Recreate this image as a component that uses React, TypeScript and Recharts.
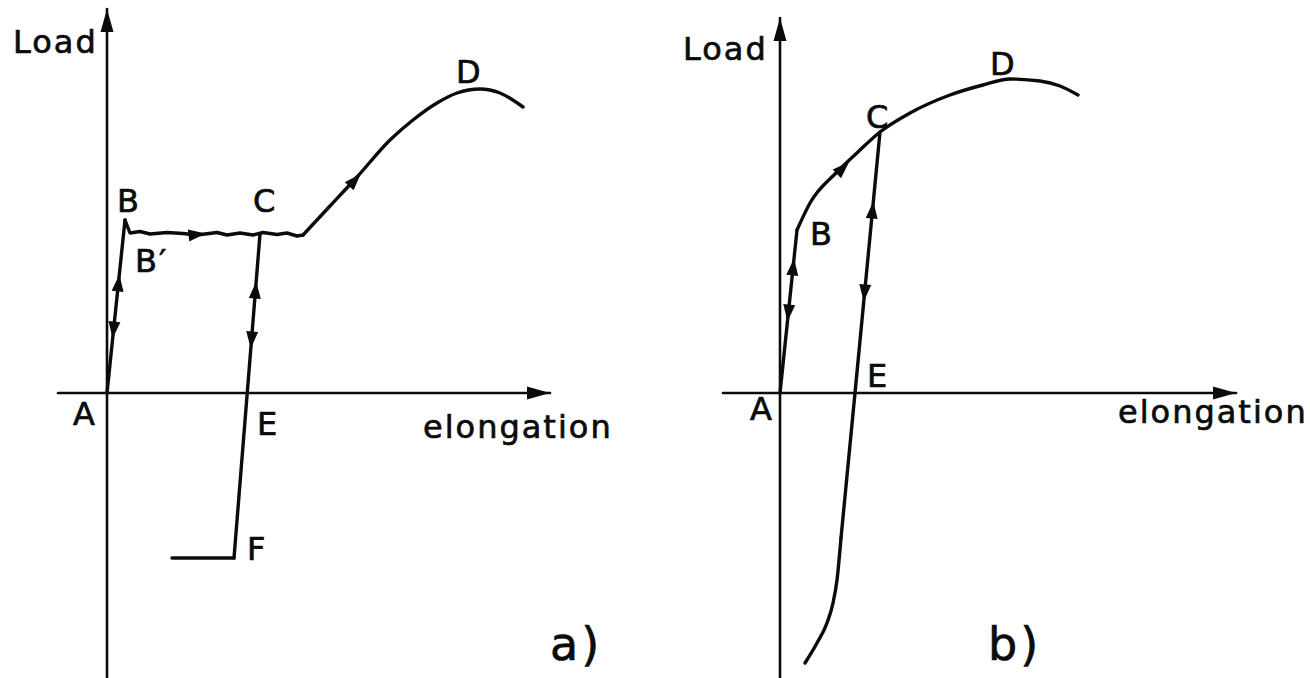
import { ComposedChart, Line, Scatter, XAxis, YAxis } from "recharts";

type Pt = { x: number; y: number };
type Head = Pt & { on: Pt[]; dir: number };
type Tag = Pt & { text: string };

// ---- a) yield plateau with reverse loading ----
const aLoadAxis: Pt[] = [{ x: 0, y: -57 }, { x: 0, y: 76.8 }];
const aElongAxis: Pt[] = [{ x: -9.8, y: 0 }, { x: 88.6, y: 0 }];
const aElastic: Pt[] = [{ x: 0, y: 0 }, { x: 3.6, y: 34.6 }];
const aPlateau: Pt[] = [
  { x: 3.6, y: 34.6 }, { x: 4.6, y: 32 }, { x: 6.6, y: 32.3 }, { x: 8.6, y: 31.8 },
  { x: 12, y: 32.1 }, { x: 15.2, y: 31.9 }, { x: 18, y: 31.6 }, { x: 22, y: 32.1 },
  { x: 24, y: 31.6 }, { x: 26.6, y: 32 }, { x: 29.2, y: 31.6 }, { x: 31.2, y: 32.1 },
  { x: 34, y: 31.7 }, { x: 36, y: 32 }, { x: 38, y: 31.4 }, { x: 39.2, y: 31.6 },
];
const aHardening: Pt[] = [
  { x: 39.2, y: 31.6 }, { x: 44.6, y: 37.4 }, { x: 50, y: 43.2 }, { x: 56.6, y: 50.6 },
  { x: 61.2, y: 54.6 }, { x: 66, y: 58 }, { x: 70, y: 60 }, { x: 74.6, y: 60.8 },
  { x: 78.6, y: 60 }, { x: 83.2, y: 57.2 },
];
const aUnload: Pt[] = [{ x: 30.6, y: 31.8 }, { x: 25.4, y: -33 }];
const aReverse: Pt[] = [{ x: 25.4, y: -33 }, { x: 13, y: -33 }];

const aHeads: Head[] = [
  { x: 2.3, y: 22, on: aElastic, dir: 1 },
  { x: 1.31, y: 12.6, on: aElastic, dir: -1 },
  { x: 18, y: 31.7, on: aPlateau, dir: 1 },
  { x: 29.7, y: 20.6, on: aUnload, dir: -1 },
  { x: 28.9, y: 10.6, on: aUnload, dir: 1 },
  { x: 49.6, y: 42.6, on: aHardening, dir: 1 },
];
const aTips: Head[] = [
  { x: 0, y: 76.8, on: aLoadAxis, dir: 1 },
  { x: 88.6, y: 0, on: aElongAxis, dir: 1 },
];
const aTags: Tag[] = [
  { x: -18.8, y: 68, text: "Load" },
  { x: 2, y: 36.2, text: "B" },
  { x: 5.6, y: 24.2, text: "B′" },
  { x: 29.2, y: 36.2, text: "C" },
  { x: 69.8, y: 62, text: "D" },
  { x: -6.8, y: -6.4, text: "A" },
  { x: 30, y: -8.4, text: "E" },
  { x: 28, y: -33.4, text: "F" },
  { x: 63.2, y: -9, text: "elongation" },
];
const aCaption: Tag[] = [{ x: 88.6, y: -53.4, text: "a)" }];

// ---- b) continuous hardening ----
const bLoadAxis: Pt[] = [{ x: 0, y: -57 }, { x: 0, y: 75 }];
const bElongAxis: Pt[] = [{ x: -11.4, y: 0 }, { x: 91.2, y: 0 }];
const bElastic: Pt[] = [{ x: 0, y: 0 }, { x: 3.4, y: 32.6 }];
const bHardening: Pt[] = [
  { x: 3.4, y: 32.6 }, { x: 6, y: 38 }, { x: 11.4, y: 44.2 }, { x: 16, y: 48.6 },
  { x: 20, y: 52.2 }, { x: 26, y: 56 }, { x: 34, y: 59.6 }, { x: 40.6, y: 61.6 },
  { x: 46, y: 62.8 }, { x: 52, y: 62.4 }, { x: 56, y: 61.4 }, { x: 59.6, y: 59.6 },
];
const bUnload: Pt[] = [{ x: 20, y: 52.2 }, { x: 15, y: 0 }, { x: 12.2, y: -29 }];
const bTail: Pt[] = [
  { x: 5, y: -54 }, { x: 7.4, y: -50 }, { x: 9.4, y: -46 }, { x: 10.6, y: -42 },
  { x: 11.4, y: -37.4 }, { x: 12.2, y: -29 },
];

const bHeads: Head[] = [
  { x: 2.63, y: 25.2, on: bElastic, dir: 1 },
  { x: 1.67, y: 16, on: bElastic, dir: -1 },
  { x: 12.6, y: 45, on: bHardening, dir: 1 },
  { x: 18.5, y: 36.6, on: bUnload, dir: -1 },
  { x: 16.9, y: 20, on: bUnload, dir: 1 },
];
const bTips: Head[] = [
  { x: 0, y: 75, on: bLoadAxis, dir: 1 },
  { x: 91.2, y: 0, on: bElongAxis, dir: 1 },
];
const bTags: Tag[] = [
  { x: -19.4, y: 66.6, text: "Load" },
  { x: 6, y: 29.6, text: "B" },
  { x: 17.2, y: 53, text: "C" },
  { x: 42, y: 63.6, text: "D" },
  { x: -6, y: -5.4, text: "A" },
  { x: 17.4, y: 1.2, text: "E" },
  { x: 67.6, y: -6, text: "elongation" },
];
const bCaption: Tag[] = [{ x: 41.6, y: -53.4, text: "b)" }];

const INK = "#0b0b0b";
const FONT = "'DejaVu Sans', sans-serif";
const PX = 5; // pixels per unit, equal on both axes so slopes keep their angle
const W = 655;
const H = 678;
const ORIGIN_Y = 393;

// direction of the segment of `on` closest to the head, in screen degrees
function headAngle(h: Head) {
  const pts = h.on;
  let best = 0;
  let bestD = Infinity;
  for (let i = 0; i < pts.length - 1; i++) {
    const a = pts[i];
    const b = pts[i + 1];
    const dx = b.x - a.x;
    const dy = b.y - a.y;
    const len2 = dx * dx + dy * dy || 1;
    const t = Math.max(0, Math.min(1, ((h.x - a.x) * dx + (h.y - a.y) * dy) / len2));
    const ex = a.x + t * dx - h.x;
    const ey = a.y + t * dy - h.y;
    const d = ex * ex + ey * ey;
    if (d < bestD) {
      bestD = d;
      best = i;
    }
  }
  const a = pts[best];
  const b = pts[best + 1];
  return (Math.atan2(-(b.y - a.y) * h.dir, (b.x - a.x) * h.dir) * 180) / Math.PI;
}

const arrowHead = (len: number, half: number, back: number) => (props: any) => {
  const { cx, cy, payload } = props;
  if (cx == null || cy == null) return <g />;
  return (
    <polygon
      points={`${len * (1 - back)},0 ${-len * back},${half} ${-len * back},${-half}`}
      transform={`translate(${cx},${cy}) rotate(${headAngle(payload)})`}
      fill={INK}
    />
  );
};

// stencil-like lettering: slightly stroked and widened
const lettering = (size: number, spacing: number) => (props: any) => {
  const { cx, cy, payload } = props;
  if (cx == null || cy == null) return <g />;
  return (
    <text
      x={cx}
      y={cy}
      fill={INK}
      stroke={INK}
      strokeWidth={0.7}
      fontSize={size}
      letterSpacing={spacing}
      fontFamily={FONT}
      textAnchor="start"
    >
      {payload.text}
    </text>
  );
};

type Curve = { data: Pt[]; type: "linear" | "monotone"; width: number };

function Panel(props: {
  left: number;
  originX: number;
  curves: Curve[];
  heads: Head[];
  tips: Head[];
  tags: Tag[];
  caption: Tag[];
}) {
  const { left, originX, curves, heads, tips, tags, caption } = props;
  const xDomain = [-originX / PX, (W - originX) / PX];
  const yDomain = [(ORIGIN_Y - H) / PX, ORIGIN_Y / PX];
  return (
    <div style={{ position: "absolute", left, top: 0 }}>
      <ComposedChart width={W} height={H} margin={{ top: 0, right: 0, bottom: 0, left: 0 }}>
        <XAxis type="number" dataKey="x" domain={xDomain} hide allowDataOverflow />
        <YAxis type="number" dataKey="y" domain={yDomain} hide allowDataOverflow />
        {curves.map((c, i) => (
          <Line
            key={i}
            data={c.data}
            dataKey="y"
            type={c.type}
            stroke={INK}
            strokeWidth={c.width}
            strokeLinejoin="round"
            strokeLinecap="round"
            dot={false}
            activeDot={false}
            isAnimationActive={false}
          />
        ))}
        <Scatter data={heads} dataKey="y" shape={arrowHead(17, 6, 0.5)} isAnimationActive={false} />
        <Scatter data={tips} dataKey="y" shape={arrowHead(23, 6.5, 1)} isAnimationActive={false} />
        <Scatter data={tags} dataKey="y" shape={lettering(32, 2)} isAnimationActive={false} />
        <Scatter data={caption} dataKey="y" shape={lettering(46, 3)} isAnimationActive={false} />
      </ComposedChart>
    </div>
  );
}

export default function App() {
  return (
    <div
      style={{
        position: "absolute",
        left: 0,
        top: 0,
        width: 1310,
        height: 678,
        background: "#ffffff",
        overflow: "hidden",
      }}
    >
      <Panel
        left={0}
        originX={107}
        curves={[
          { data: aLoadAxis, type: "linear", width: 2.6 },
          { data: aElongAxis, type: "linear", width: 2.6 },
          { data: aElastic, type: "linear", width: 3.4 },
          { data: aPlateau, type: "linear", width: 3.4 },
          { data: aHardening, type: "monotone", width: 3.4 },
          { data: aUnload, type: "linear", width: 3.4 },
          { data: aReverse, type: "linear", width: 3.4 },
        ]}
        heads={aHeads}
        tips={aTips}
        tags={aTags}
        caption={aCaption}
      />
      <Panel
        left={655}
        originX={125}
        curves={[
          { data: bLoadAxis, type: "linear", width: 2.6 },
          { data: bElongAxis, type: "linear", width: 2.6 },
          { data: bElastic, type: "linear", width: 3.4 },
          { data: bHardening, type: "monotone", width: 3.4 },
          { data: bUnload, type: "linear", width: 3.4 },
          { data: bTail, type: "monotone", width: 3.4 },
        ]}
        heads={bHeads}
        tips={bTips}
        tags={bTags}
        caption={bCaption}
      />
    </div>
  );
}
